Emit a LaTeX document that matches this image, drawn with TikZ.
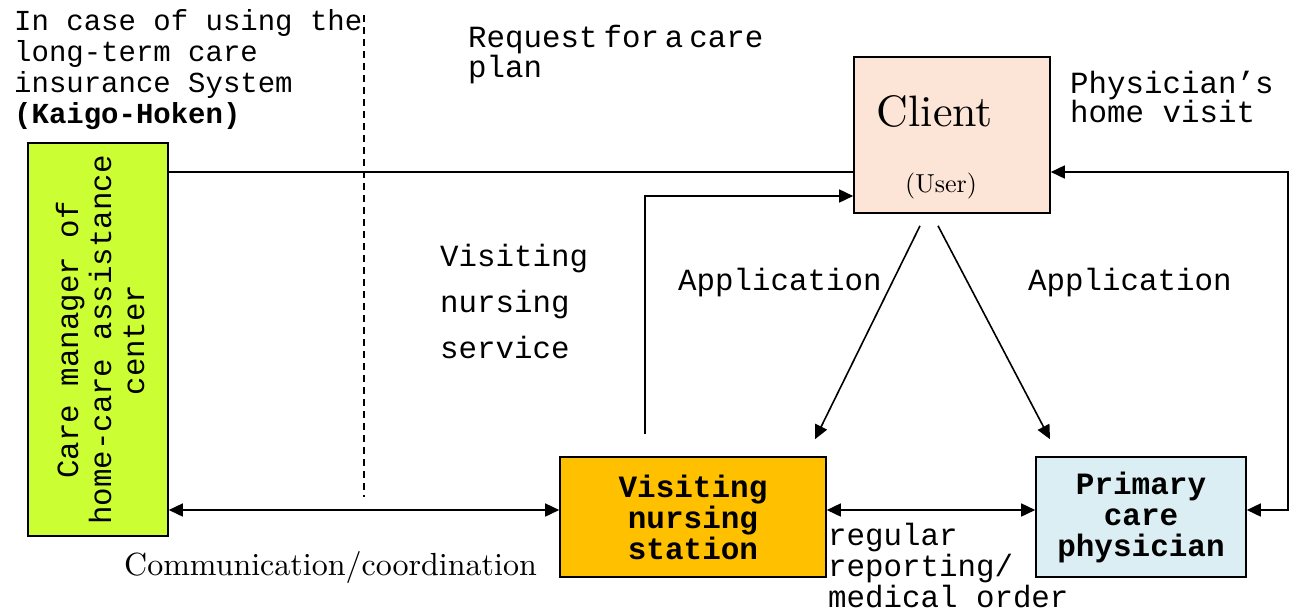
\documentclass[tikz,border=0pt]{standalone}
\usepackage{fontspec}
\newfontfamily\mono{Liberation Mono}
\newfontfamily\lmten[Extension=.otf]{lmroman10-regular}
\usetikzlibrary{arrows.meta}
\definecolor{cmgreen}{HTML}{CCFF33}
\definecolor{clientfill}{HTML}{FCE4D6}
\definecolor{vnsfill}{HTML}{FFC000}
\definecolor{pcpfill}{HTML}{DAEEF3}
\begin{document}
\begin{tikzpicture}[x=1pt,y=-1pt,
  box/.style={draw=black, line width=1.6pt, inner sep=0pt, anchor=center},
  tip/.tip={Triangle[length=14pt,width=13pt]},
  arr/.style={line width=1.6pt, -tip},
  darr/.style={line width=1.6pt, tip-tip},
  plain/.style={line width=1.6pt},
  mtext/.style={font=\mono\fontsize{30.8}{31}\selectfont, inner sep=0pt, align=left, anchor=base west},
  btext/.style={font=\mono\bfseries\fontsize{31}{31}\selectfont, inner sep=0pt, align=center},
]
\useasboundingbox (0,0) rectangle (1296,614);

% boxes
\node[box, fill=cmgreen, minimum width=140pt, minimum height=393pt] (green) at (98,339.5) {};
\node[rotate=90, font=\mono\fontsize{30.8}{33}\selectfont, align=center, inner sep=0pt] (greentext) at (100,340) {Care manager of\\home-care assistance\\center};
\node[box, fill=clientfill, minimum width=196pt, minimum height=156pt] (client) at (952,135) {};
\node[font=\lmten\fontsize{44}{44}\selectfont, inner sep=0pt, anchor=base] (clienttext) at (935,126) {Client};
\node[font=\lmten\fontsize{26}{26}\selectfont, inner sep=0pt, anchor=base] (usertext) at (941,192) {(User)};
\node[box, fill=vnsfill, minimum width=266pt, minimum height=120pt, btext] (vns) at (693,517) {Visiting\\nursing\\station};
\node[box, fill=pcpfill, minimum width=210pt, minimum height=120pt, btext] (pcp) at (1141,517) {Primary\\care\\physician};

% texts (anchor = baseline of last line)
\node[mtext, font=\mono\fontsize{29}{31}\selectfont] (case) at (14,123) {In case of using the\\long-term care\\insurance System\\\textbf{(Kaigo-Hoken)}};
\node[mtext, font=\mono\fontsize{30.8}{30}\selectfont] (request) at (468,77) {Request\hspace{6pt}for\hspace{6pt}a\hspace{6pt}care\\plan};
\node[mtext, font=\mono\fontsize{30.8}{29}\selectfont] (homevisit) at (1070,122) {Physician’s\\home visit};
\node[mtext, font=\mono\fontsize{30.8}{46}\selectfont] (vnservice) at (440,358) {Visiting\\nursing\\service};
\node[mtext] (app1) at (678,290) {Application};
\node[mtext] (app2) at (1028,290) {Application};
\node[font=\lmten\fontsize{32}{32}\selectfont, inner sep=0pt, anchor=base west] (comm) at (124,575) {Communication/coordination};
\node[mtext, font=\mono\fontsize{30.8}{31}\selectfont] (regular) at (828,607) {regular\\reporting/\\medical order};

% dashed separator
\coordinate (dtop) at (364,15);
\coordinate (dbot) at (364,497);
\draw[line width=1.4pt, dash pattern=on 7pt off 5pt] (dtop) -- (dbot);

% connectors
\path ([yshift=-37pt]client.west) coordinate (cw1);
\draw[plain] (cw1 -| green.east) -- (cw1);

\path ([yshift=-61pt]client.west) coordinate (cw2);
\path ([xshift=-48pt,yshift=22pt]vns.north) coordinate (vs);
\draw[arr] (vs) |- (cw2);

\path ([xshift=-32pt,yshift=-12pt]client.south) coordinate (cs1);
\path ([xshift=122pt,yshift=17pt]vns.north) coordinate (ve1);
\draw[arr] (cs1) -- (ve1);

\path ([xshift=-14pt,yshift=-12pt]client.south) coordinate (cs2);
\path ([xshift=-91pt,yshift=17pt]pcp.north) coordinate (pe1);
\draw[arr] (cs2) -- (pe1);

\path ([yshift=-37pt]client.east) coordinate (ce);
\path ([yshift=7pt]pcp.east) coordinate (pe);
\coordinate (rr) at (1288,0);
\draw[darr] (ce) -- (rr |- ce) -- (rr |- pe) -- (pe);

\path ([yshift=7pt]vns.west) coordinate (vw);
\draw[darr] (vw -| green.east) -- (vw);

\draw[darr] ([yshift=7pt]vns.east) -- ([yshift=7pt]pcp.west);
\end{tikzpicture}
\end{document}
